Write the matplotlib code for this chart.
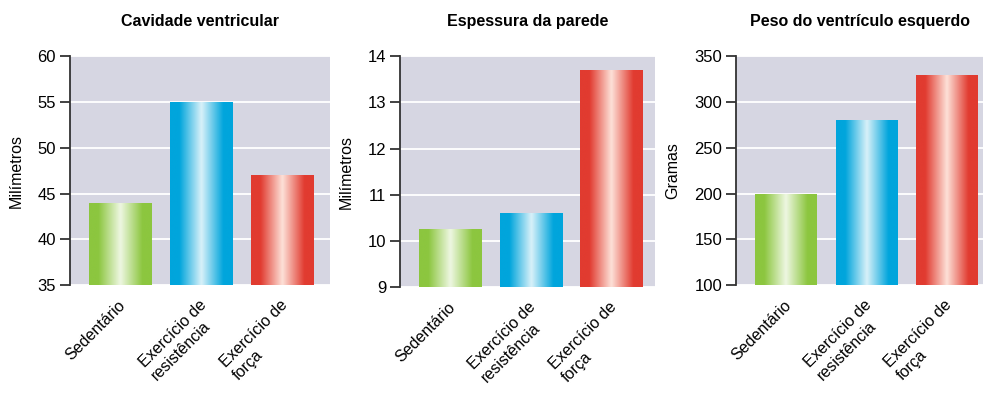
import matplotlib.pyplot as plt
import numpy as np
from matplotlib.colors import LinearSegmentedColormap
from matplotlib.transforms import ScaledTranslation

plt.rcParams["font.family"] = ["Liberation Sans", "DejaVu Sans"]

# =========================
# Data
# =========================
CATEGORIES = ["Sedentário", "Exercício de\nresistência", "Exercício de\nforça"]
TITLES = ["Cavidade ventricular", "Espessura da parede", "Peso do ventrículo esquerdo"]
YLABELS = ["Milímetros", "Milímetros", "Gramas"]

CAVIDADE = [44, 55, 47]
ESPESSURA = [10.25, 10.6, 13.7]
PESO = [200, 280, 330]

YLIMS = [(35, 60), (9, 14), (100, 350)]
YTICKS = [[35, 40, 45, 50, 55, 60], [9, 10, 11, 12, 13, 14], [100, 150, 200, 250, 300, 350]]

# edge colour, light centre colour
BAR_COLORS = [
    ("#8cc63f", "#eef7e2"),
    ("#00a5dc", "#d9f1f9"),
    ("#e13b30", "#fde1d8"),
]

BG = "#d6d6e2"

# axes boxes in figure fraction: left, bottom, width, height
BOXES = [
    (0.0712, 0.280, 0.2645, 0.578),
    (0.407, 0.275, 0.259, 0.583),
    (0.749, 0.280, 0.251, 0.578),
]
XRIGHT = [2.59, 2.54, 2.45]


def draw_panel(fig, ax, values, title, ylabel, ylim, yticks, xright):
    ax.set_facecolor(BG)
    x = np.arange(len(values))
    width = 0.77
    bars = ax.bar(x, values, width=width, color="none", zorder=3)
    grad = np.linspace(0, 1, 256).reshape(1, -1)
    for bar, (edge, light) in zip(bars, BAR_COLORS):
        x0 = bar.get_x()
        cmap = LinearSegmentedColormap.from_list(
            "g", [(0.0, edge), (0.15, edge), (0.5, light), (0.85, edge), (1.0, edge)]
        )
        im = ax.imshow(
            grad,
            cmap=cmap,
            aspect="auto",
            extent=(x0, x0 + bar.get_width(), ylim[0], bar.get_height()),
            zorder=3,
            interpolation="bicubic",
        )
        im.set_clip_path(bar)

    ax.set_xlim(-0.62, xright)
    ax.set_ylim(*ylim)
    ax.set_yticks(yticks)
    ax.yaxis.grid(True, color="white", linewidth=1.3, zorder=1)
    ax.set_axisbelow(True)

    for side in ["top", "right", "bottom"]:
        ax.spines[side].set_visible(False)
    ax.spines["left"].set_color("#333333")
    ax.spines["left"].set_linewidth(1.3)
    ax.tick_params(axis="y", direction="out", length=7, width=1.3,
                   color="#333333", labelsize=12, pad=3)
    ax.tick_params(axis="x", length=0, pad=9)

    ax.set_xticks(x)
    labels = ax.set_xticklabels(CATEGORIES, rotation=45, ha="right", va="top",
                                rotation_mode="anchor", fontsize=11.5,
                                multialignment="left", linespacing=1.25)
    shift = ScaledTranslation(-2 / 72, 0, fig.dpi_scale_trans)
    for lab in labels:
        lab.set_transform(lab.get_transform() + shift)
    ax.set_ylabel(ylabel, fontsize=11.5, labelpad=10)
    ax.set_title(title, fontsize=11.5, fontweight="bold", pad=22)


fig = plt.figure(figsize=(9.83, 3.96), dpi=100)
all_values = [CAVIDADE, ESPESSURA, PESO]
for i in range(3):
    ax = fig.add_axes(BOXES[i])
    draw_panel(fig, ax, all_values[i], TITLES[i], YLABELS[i], YLIMS[i], YTICKS[i], XRIGHT[i])

fig.savefig("out.png", dpi=100)
